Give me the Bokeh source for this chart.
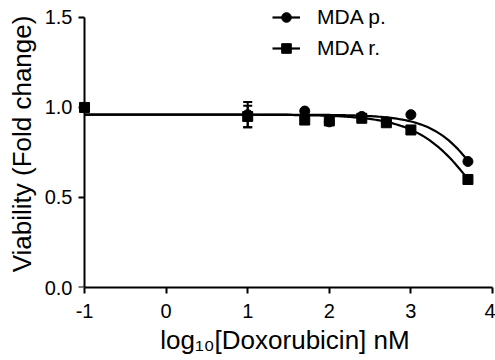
import numpy as np
from bokeh.plotting import figure
from bokeh.models import (ColumnDataSource, Whisker, TeeHead, Legend, LegendItem,
                          FixedTicker, Range1d, LinearAxis)
from bokeh.embed import file_html
from bokeh.resources import INLINE

# ---- data ----
log_dose = [-1, 1, 1.699, 2, 2.398, 2.699, 3, 3.699]
mda_p = [1.00, 0.96, 0.98, 0.92, 0.95, 0.92, 0.96, 0.70]
mda_r = [1.00, 0.95, 0.93, 0.925, 0.94, 0.915, 0.875, 0.60]

err_x = [1, 1]
err_base = [0.96, 0.95]
err_low = [0.89, 0.89]
err_high = [1.03, 1.01]

x_ticks = [-1, 0, 1, 2, 3, 4]
y_ticks = [0, 0.5, 1.0, 1.5]
y_tick_labels = ["0.0", "0.5", "1.0", "1.5"]

series_names = ["MDA p.", "MDA r."]

# four-parameter logistic fit parameters (estimated from the drawn curves)
fit_top = 0.96
fit_bottom = 0.0
fit_p_logic50 = 4.02
fit_p_hill = 1.36
fit_r_logic50 = 3.895
fit_r_hill = 1.14
fit_x_min = -1.0
fit_x_max = 3.7


def logistic(x, top, bottom, logic50, hill):
    return bottom + (top - bottom) / (1 + 10 ** ((x - logic50) * hill))


fx = np.linspace(fit_x_min, fit_x_max, 200)
fit_p = logistic(fx, fit_top, fit_bottom, fit_p_logic50, fit_p_hill)
fit_r = logistic(fx, fit_top, fit_bottom, fit_r_logic50, fit_r_hill)

FONT = "Liberation Sans"

# frame: x from canvas 77 to 492 (~81.6 px/unit), y from canvas 0 to 287 (180 px/unit)
p = figure(width=495, height=360, output_backend="svg", toolbar_location=None,
           x_range=Range1d(-1.086, 4), y_range=Range1d(0, 1.594),
           min_border_left=77, min_border_right=3, min_border_top=0,
           min_border_bottom=73)
p.outline_line_color = None
p.grid.visible = False
p.background_fill_color = "white"
p.border_fill_color = "white"

lp = p.line(fx, fit_p, line_color="black", line_width=2.2)
lr = p.line(fx, fit_r, line_color="black", line_width=2.2)

esrc = ColumnDataSource(dict(x=err_x, base=err_base, lo=err_low, hi=err_high))
wh = Whisker(source=esrc, base="x", lower="lo", upper="hi", dimension="height",
             line_color="black", line_width=2,
             upper_head=TeeHead(size=9, line_width=2, line_color="black"),
             lower_head=TeeHead(size=9, line_width=2, line_color="black"))
p.add_layout(wh)

sp = p.scatter(log_dose, mda_p, marker="circle", size=10, fill_color="black",
               line_color="black")
sr = p.scatter(log_dose, mda_r, marker="square", size=10, fill_color="black",
               line_color="black")

# ---- x axis ----
xa = p.xaxis[0]
xa.ticker = FixedTicker(ticks=x_ticks)
xa.bounds = (-1, 4)
xa.major_label_overrides = {t: str(t) for t in x_ticks}
xa.axis_label = "log\u2081\u2080[Doxorubicin] nM"
xa.major_label_standoff = 10
xa.axis_label_standoff = 4

# ---- y axis: labels at the frame edge (no line/ticks) ----
ya = p.yaxis[0]
ya.ticker = FixedTicker(ticks=y_ticks)
ya.major_label_overrides = {t: l for t, l in zip(y_ticks, y_tick_labels)}
ya.axis_label = "Viability (Fold change)"
ya.major_label_standoff = 5
ya.axis_label_standoff = 5

for ax in (xa, ya):
    ax.axis_line_width = 2
    ax.axis_line_color = "black"
    ax.major_tick_line_width = 2
    ax.major_tick_line_color = "black"
    ax.major_tick_out = 6
    ax.major_tick_in = 0
    ax.minor_tick_line_color = None
    ax.major_label_text_font = FONT
    ax.major_label_text_font_size = "20px"
    ax.major_label_text_color = "black"
    ax.axis_label_text_font = FONT
    ax.axis_label_text_font_size = "26px"
    ax.axis_label_text_font_style = "normal"
    ax.axis_label_text_color = "black"

ya.axis_line_color = None
ya.major_tick_line_color = None
ya.major_tick_out = 0

# ---- y axis line and ticks drawn at x = -1 ----
yline = LinearAxis(ticker=FixedTicker(ticks=y_ticks), fixed_location=-1,
                   bounds=(0, 1.5), axis_line_width=2, axis_line_color="black",
                   major_tick_line_width=2, major_tick_line_color="black",
                   major_tick_out=0, major_tick_in=6, minor_tick_line_color=None,
                   major_label_text_font_size="0px", major_label_standoff=0,
                   major_label_overrides={t: "" for t in y_ticks})
p.add_layout(yline, "right")

legend = Legend(items=[LegendItem(label=series_names[0], renderers=[lp, sp]),
                       LegendItem(label=series_names[1], renderers=[lr, sr])],
                location=(195, 227), padding=0, margin=0,
                border_line_color=None, background_fill_alpha=0,
                glyph_width=28, glyph_height=24, label_height=24, spacing=7,
                label_standoff=17, label_text_font=FONT,
                label_text_font_size="21px", label_text_color="black")
p.add_layout(legend)

open("out.html", "w").write(file_html(p, INLINE))
